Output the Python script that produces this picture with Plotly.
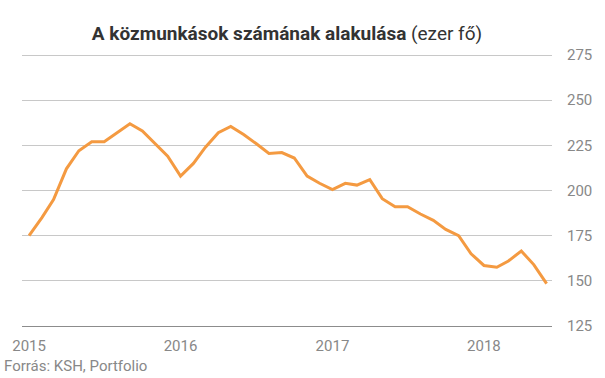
import plotly.graph_objects as go
import pandas as pd

dates = pd.date_range("2015-01-01", "2018-06-01", freq="MS").strftime("%Y-%m-%d").tolist()
values = [
    175, 185, 195, 212, 222, 227, 227, 232, 237, 233, 226, 219,   # 2015
    208, 215, 224, 232, 235.5, 231, 226, 220.5, 221, 218, 208, 204,  # 2016
    200.5, 204, 203, 206, 195.5, 191, 191, 187, 183.5, 178.5, 175, 165,  # 2017
    158.5, 157.5, 161, 166.5, 159, 148.5,  # 2018
]
year_ticks = ["2015-01-01", "2016-01-01", "2017-01-01", "2018-01-01"]
year_labels = ["2015", "2016", "2017", "2018"]
y_ticks = [125, 150, 175, 200, 225, 250, 275]

W, H = 605, 378
L, R, T, B = 22, 53, 46, 52
plot_w = W - L - R
plot_h = H - T - B

fig = go.Figure()
fig.add_trace(go.Scatter(
    x=dates, y=values, mode="lines",
    line=dict(color="#F49A41", width=3),
    hoverinfo="x+y", showlegend=False,
))

fig.update_layout(
    width=W, height=H,
    margin=dict(l=L, r=R, t=T, b=B, pad=0),
    paper_bgcolor="white", plot_bgcolor="white",
    font=dict(family="Roboto", color="#888888"),
    title=dict(
        text="<b>A közmunkások számának alakulása</b> (ezer fő)",
        font=dict(family="Roboto", size=19, color="#333333"),
        x=(L + plot_w / 2) / W, xanchor="center", xref="container",
        y=1 - 33 / H, yanchor="middle", yref="container",
    ),
    xaxis=dict(
        type="date",
        range=["2014-12-15", "2018-06-14"],
        tickvals=year_ticks, ticktext=year_labels,
        showgrid=False, zeroline=False,
        showline=True, linecolor="#8c8c8c", linewidth=1,
        ticks="", tickfont=dict(size=15, color="#888888"),
        ticklabelstandoff=6,
    ),
    yaxis=dict(
        range=[125, 280], tickvals=y_ticks,
        side="right", showgrid=True, gridcolor="#c8c8c8", gridwidth=1,
        zeroline=False, showline=False, ticks="",
        tickfont=dict(size=15, color="#888888"),
        ticklabelstandoff=14,
    ),
    annotations=[dict(
        text="Forrás: KSH, Portfolio", showarrow=False,
        xref="paper", yref="paper",
        x=(2 - L) / plot_w, xanchor="left",
        y=-(366 - (H - B)) / plot_h, yanchor="middle",
        font=dict(family="Roboto", size=15, color="#888888"),
    )],
)

fig.write_html("out.html")
